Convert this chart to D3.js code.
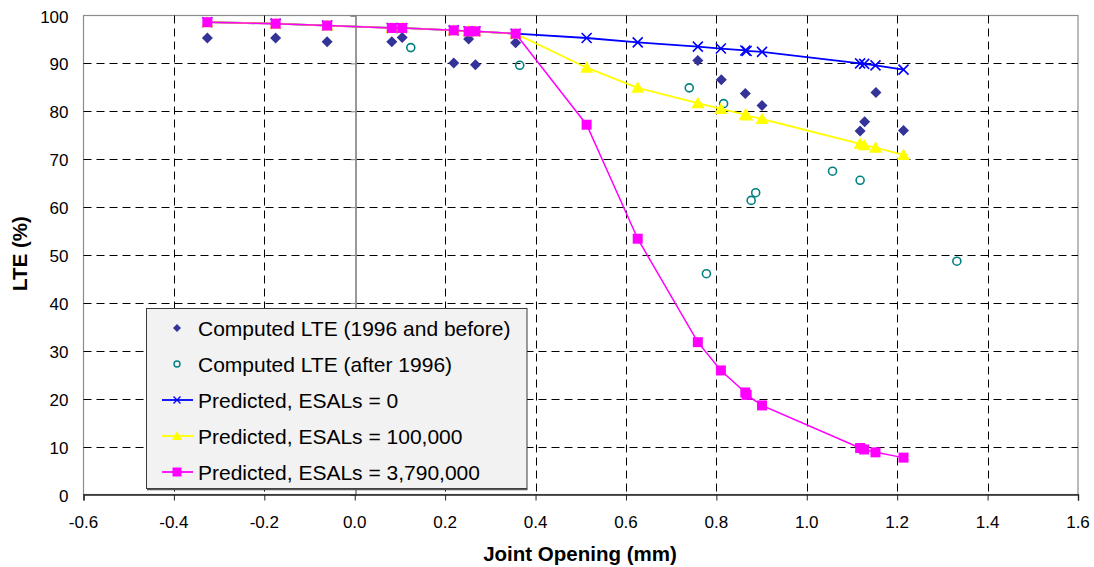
<!DOCTYPE html>
<html>
<head>
<meta charset="utf-8">
<script src="https://cdn.jsdelivr.net/npm/d3@7/dist/d3.min.js"></script>
<style>
  html, body { margin: 0; padding: 0; background: #fff; }
  svg { display: block; font-family: "Liberation Sans", Arial, sans-serif; }
</style>
</head>
<body>
<svg id="chart" width="1094" height="567"></svg>
<script>
// ---- Data ----
const predX = [-0.326, -0.175, -0.061, 0.082, 0.105, 0.219, 0.252, 0.267, 0.356, 0.513, 0.626, 0.759, 0.810, 0.864, 0.867, 0.901, 1.118, 1.127, 1.152, 1.214];
const predESAL0 = [98.6, 98.3, 97.9, 97.4, 97.4, 96.9, 96.7, 96.7, 96.2, 95.3, 94.4, 93.5, 93.1, 92.7, 92.6, 92.4, 90.0, 89.9, 89.6, 88.7];
const predESAL100k = [98.6, 98.3, 97.9, 97.4, 97.4, 96.9, 96.7, 96.7, 96.2, 89.1, 84.9, 81.7, 80.5, 79.3, 79.1, 78.4, 73.2, 72.9, 72.4, 70.9];
const predESAL379m = [98.6, 98.3, 97.9, 97.4, 97.4, 96.9, 96.7, 96.7, 96.2, 77.2, 53.4, 31.8, 25.9, 21.3, 20.8, 18.6, 9.7, 9.4, 8.8, 7.7];

const before1996X = [-0.326, -0.175, -0.061, 0.082, 0.105, 0.219, 0.252, 0.267, 0.356, 0.759, 0.811, 0.864, 0.901, 1.118, 1.128, 1.153, 1.214];
const before1996Y = [95.3, 95.3, 94.5, 94.5, 95.4, 90.1, 95.1, 89.7, 94.3, 90.6, 86.6, 83.7, 81.2, 75.9, 77.8, 83.9, 76.0];

const after1996X = [0.124, 0.365, 0.740, 0.816, 0.778, 0.877, 0.887, 1.057, 1.118, 1.332];
const after1996Y = [93.3, 89.6, 84.9, 81.6, 46.1, 61.4, 63.0, 67.5, 65.6, 48.7];

const xTicks = [-0.6, -0.4, -0.2, 0.0, 0.2, 0.4, 0.6, 0.8, 1.0, 1.2, 1.4, 1.6];
const yTicks = [0, 10, 20, 30, 40, 50, 60, 70, 80, 90, 100];

const legendLabels = [
  "Computed LTE (1996 and before)",
  "Computed LTE (after 1996)",
  "Predicted, ESALs = 0",
  "Predicted, ESALs = 100,000",
  "Predicted, ESALs = 3,790,000"
];

// ---- Layout ----
const svg = d3.select("#chart");
const pL = 83.5, pR = 1078, pT = 15.5, pB = 494.5;
const x = d3.scaleLinear().domain([-0.6, 1.6]).range([pL, pR]);
const y = d3.scaleLinear().domain([0, 100]).range([pB, pT]);

// plot border
svg.append("rect").attr("x", pL).attr("y", pT)
  .attr("width", pR - pL).attr("height", pB - pT)
  .attr("fill", "#fff").attr("stroke", "#8c8c8c").attr("stroke-width", 1.2);

// horizontal gridlines
svg.append("g").selectAll("line").data(yTicks.filter(d => d > 0 && d < 100)).join("line")
  .attr("x1", pL).attr("x2", pR)
  .attr("y1", d => Math.round(y(d)) + 0.5).attr("y2", d => Math.round(y(d)) + 0.5)
  .attr("stroke", "#000").attr("stroke-width", 1).attr("stroke-dasharray", "8,5");

// vertical gridlines
svg.append("g").selectAll("line").data(xTicks.filter(d => d > -0.6 && d < 1.6 && Math.abs(d) > 1e-9)).join("line")
  .attr("x1", d => Math.round(x(d)) + 0.5).attr("x2", d => Math.round(x(d)) + 0.5)
  .attr("y1", pT).attr("y2", pB)
  .attr("stroke", "#000").attr("stroke-width", 1).attr("stroke-dasharray", "8,5");

// y-axis at x = 0
const yAxis = d3.axisLeft(y).tickValues(yTicks).tickSize(5).tickFormat("");
const gy = svg.append("g").attr("transform", `translate(${Math.round(x(0)) + 0.5},0)`).call(yAxis);
gy.select(".domain").attr("stroke", "#808080").attr("stroke-width", 1.6);
gy.selectAll(".tick line").attr("stroke", "#808080");

// y tick labels at left side
svg.append("g").selectAll("text").data(yTicks).join("text")
  .attr("x", 68.5).attr("y", d => y(d) + 7)
  .attr("text-anchor", "end").attr("font-size", 17).attr("fill", "#000")
  .text(d => d);

// x-axis at y = 0
const xAxis = d3.axisBottom(x).tickValues(xTicks).tickSize(6).tickFormat("");
const gx = svg.append("g").attr("transform", `translate(0,${pB})`).call(xAxis);
gx.select(".domain").attr("stroke", "#222").attr("stroke-width", 1.4);
gx.selectAll(".tick line").attr("stroke", "#222");
svg.append("g").selectAll("text").data(xTicks).join("text")
  .attr("x", d => x(d)).attr("y", 527.5)
  .attr("text-anchor", "middle").attr("font-size", 17).attr("fill", "#000")
  .text(d => d3.format(".1f")(d).replace("−", "-"));

// axis titles
svg.append("text").attr("x", 580).attr("y", 560.5).attr("text-anchor", "middle")
  .attr("font-size", 20.5).attr("font-weight", "bold").text("Joint Opening (mm)");
svg.append("text").attr("transform", "translate(27,253.5) rotate(-90)").attr("text-anchor", "middle")
  .attr("font-size", 20.5).attr("font-weight", "bold").text("LTE (%)");

// ---- Series ----
const line = d3.line().x(d => x(d[0])).y(d => y(d[1]));
const series = [
  { ys: predESAL0, color: "#0000ff", w: 1.8, sym: "x" },
  { ys: predESAL100k, color: "#ffff00", w: 1.8, sym: "tri" },
  { ys: predESAL379m, color: "#ff00ff", w: 1.5, sym: "sq" }
];

function drawSymbol(g, sym, color, cx, cy) {
  if (sym === "x") {
    const s = 5;
    g.append("path").attr("d", `M${cx - s},${cy - s}L${cx + s},${cy + s}M${cx - s},${cy + s}L${cx + s},${cy - s}`)
      .attr("stroke", color).attr("stroke-width", 1.6).attr("fill", "none");
  } else if (sym === "tri") {
    g.append("path").attr("d", `M${cx},${cy - 6.5}L${cx + 6.5},${cy + 5}L${cx - 6.5},${cy + 5}Z`).attr("fill", color);
  } else if (sym === "sq") {
    g.append("rect").attr("x", cx - 5).attr("y", cy - 5).attr("width", 10).attr("height", 10).attr("fill", color);
  } else if (sym === "dia") {
    g.append("path").attr("d", `M${cx},${cy - 5.5}L${cx + 5.5},${cy}L${cx},${cy + 5.5}L${cx - 5.5},${cy}Z`).attr("fill", color);
  } else if (sym === "circ") {
    g.append("circle").attr("cx", cx).attr("cy", cy).attr("r", 4).attr("fill", "none")
      .attr("stroke", color).attr("stroke-width", 1.6);
  }
}

// scatter series first
const gDia = svg.append("g");
before1996X.forEach((v, i) => drawSymbol(gDia, "dia", "#333399", x(v), y(before1996Y[i])));
const gCirc = svg.append("g");
after1996X.forEach((v, i) => drawSymbol(gCirc, "circ", "#008080", x(v), y(after1996Y[i])));

series.forEach(s => {
  const pts = predX.map((v, i) => [v, s.ys[i]]);
  const g = svg.append("g");
  g.append("path").attr("d", line(pts)).attr("fill", "none").attr("stroke", s.color).attr("stroke-width", s.w);
  pts.forEach(p => drawSymbol(g, s.sym, s.color, x(p[0]), y(p[1])));
});

// ---- Legend ----
const lg = svg.append("g");
lg.append("rect").attr("x", 146.5).attr("y", 308.5).attr("width", 380.5).attr("height", 180)
  .attr("fill", "#f2f2f2").attr("stroke", "#3a3a3a").attr("stroke-width", 1);
lg.append("line").attr("x1", 147).attr("x2", 527.5).attr("y1", 489.5).attr("y2", 489.5)
  .attr("stroke", "#555").attr("stroke-width", 1.5);
const legSyms = [
  { sym: "dia", color: "#333399", line: false },
  { sym: "circ", color: "#008080", line: false },
  { sym: "x", color: "#0000ff", line: true },
  { sym: "tri", color: "#ffff00", line: true },
  { sym: "sq", color: "#ff00ff", line: true }
];
legendLabels.forEach((lab, i) => {
  const cy = 328 + i * 36;
  const s = legSyms[i];
  if (s.line) {
    lg.append("line").attr("x1", 162).attr("x2", 193).attr("y1", cy).attr("y2", cy)
      .attr("stroke", s.color).attr("stroke-width", 1.8);
  }
  const g = lg.append("g");
  if (s.sym === "dia") {
    g.append("path").attr("d", `M177,${cy - 4}L181,${cy}L177,${cy + 4}L173,${cy}Z`).attr("fill", s.color);
  } else if (s.sym === "circ") {
    g.append("circle").attr("cx", 177).attr("cy", cy).attr("r", 3).attr("fill", "none").attr("stroke", s.color).attr("stroke-width", 1.4);
  } else if (s.sym === "x") {
    g.append("path").attr("d", `M173.5,${cy - 3.5}L180.5,${cy + 3.5}M173.5,${cy + 3.5}L180.5,${cy - 3.5}`).attr("stroke", s.color).attr("stroke-width", 1.3);
  } else if (s.sym === "tri") {
    g.append("path").attr("d", `M177,${cy - 5}L182,${cy + 4}L172,${cy + 4}Z`).attr("fill", s.color);
  } else {
    g.append("rect").attr("x", 172.5).attr("y", cy - 4.5).attr("width", 9).attr("height", 9).attr("fill", s.color);
  }
  lg.append("text").attr("x", 198).attr("y", cy + 7.5).attr("font-size", 21).attr("fill", "#000").text(lab);
});
</script>
</body>
</html>
